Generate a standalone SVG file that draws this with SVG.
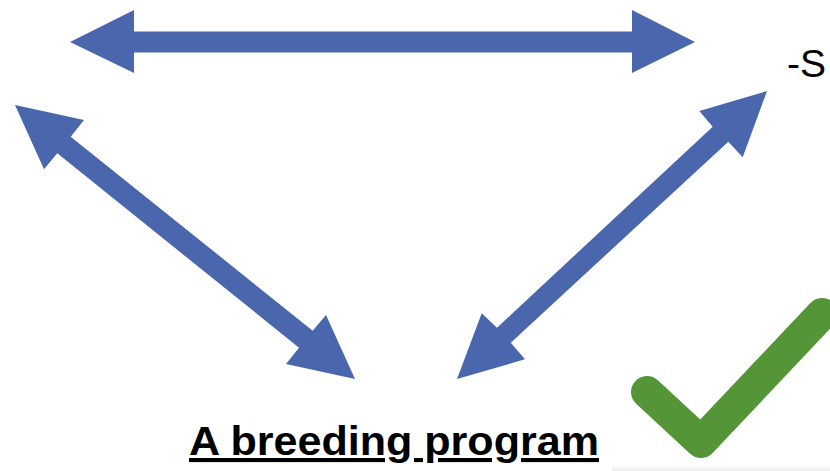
<svg xmlns="http://www.w3.org/2000/svg" width="830" height="471" viewBox="0 0 830 471">
  <style>
    .arrow { fill: #4A67AE; stroke: none; }
    .label { font-family: "Liberation Sans", Arial, sans-serif; fill: #000000; }
    .title { font-size: 41px; font-weight: bold; text-decoration: underline; }
    .side { font-size: 39px; }
    .check { fill: none; stroke: #549538; stroke-width: 32; stroke-linecap: round; stroke-linejoin: round; }
  </style>
  <defs>
    <linearGradient id="shadow" x1="0" y1="0" x2="0" y2="1">
      <stop offset="0" stop-color="#ffffff" stop-opacity="0"/>
      <stop offset="1" stop-color="#ebebeb"/>
    </linearGradient>
  </defs>
  <rect x="0" y="0" width="830" height="471" fill="#ffffff"/>
  <rect x="612" y="462" width="218" height="9" fill="url(#shadow)"/>

  <g id="connectors">
    <polygon class="arrow" points="70,42 134,10 134,31.5 632,31.5 632,10 695,42 632,73 632,52.5 134,52.5 134,73"/>
    <polygon class="arrow" points="15,105 84,120 70.7,136.7 312.7,330.7 326,315 355,379 286,364 299,347.7 57.3,153.3 44,169.3"/>
    <polygon class="arrow" points="767,91 742.7,157.3 728.3,141.7 510.8,342.7 525,359.3 457,379 481.7,313.3 497,327.7 712.7,126.7 699.3,111"/>
  </g>

  <g id="node-breeding-program">
    <text class="label title" x="189" y="455" textLength="410" lengthAdjust="spacingAndGlyphs">A breeding program</text>
  </g>

  <g id="node-s">
    <text class="label side" x="787" y="77" textLength="39" lengthAdjust="spacingAndGlyphs">-S</text>
  </g>

  <g id="node-check">
    <polyline class="check" points="647,392 701,442 822,314"/>
  </g>
</svg>
